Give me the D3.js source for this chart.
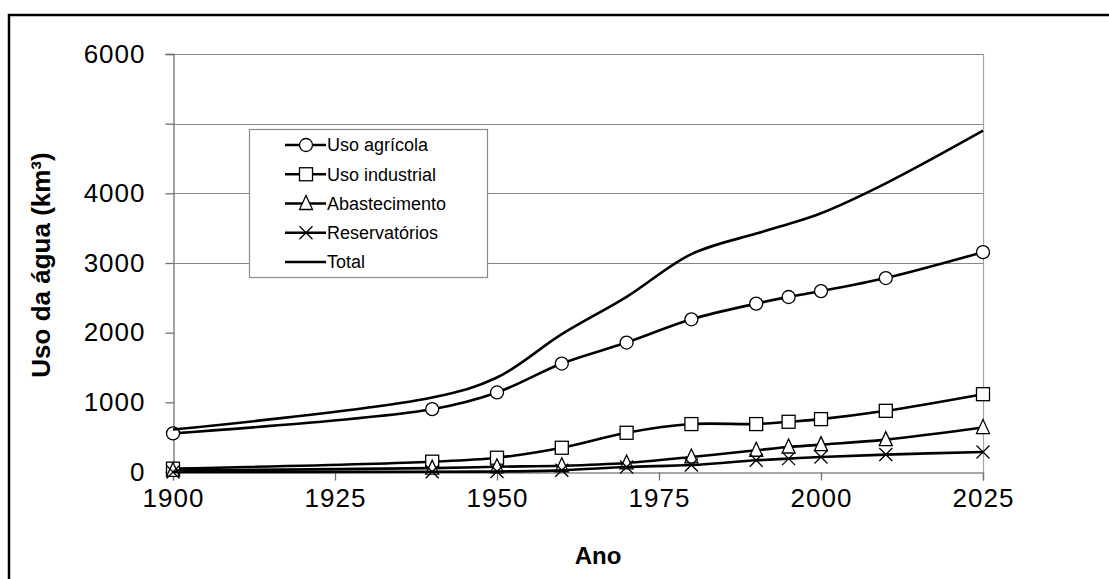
<!DOCTYPE html>
<html>
<head>
<meta charset="utf-8">
<script src="https://cdn.jsdelivr.net/npm/d3@7"></script>
<style>
  html, body { margin: 0; padding: 0; background: #fff; }
  svg { display: block; }
  text { font-family: "Liberation Sans", Arial, sans-serif; fill: #000; }
</style>
</head>
<body>
<svg id="chart" width="1109" height="579"></svg>
<script>
// ---- data ----
const years = [1900, 1940, 1950, 1960, 1970, 1980, 1990, 1995, 2000, 2010, 2025];
const usoAgricola = [554, 902, 1142, 1557, 1858, 2192, 2417, 2512, 2597, 2784, 3156];
const usoIndustrial = [48, 148, 205, 348, 563, 688, 688, 721, 759, 878, 1117];
const abastecimento = [22, 55, 75, 90, 130, 216, 312, 359, 393, 465, 638];
const reservatorios = [0, 4, 7, 24, 72, 100, 168, 192, 216, 250, 287];
const total = [609, 1069, 1356, 1978, 2514, 3128, 3422, 3559, 3713, 4143, 4899];

const seriesNames = ["Uso agrícola", "Uso industrial", "Abastecimento", "Reservatórios", "Total"];
const seriesMarkers = ["circle", "square", "triangle", "cross", "none"];
const seriesValues = [usoAgricola, usoIndustrial, abastecimento, reservatorios, total];

const xTicks = [1900, 1925, 1950, 1975, 2000, 2025];
const yTicks = [0, 1000, 2000, 3000, 4000, 5000, 6000];
const yLabeledTicks = [0, 1000, 2000, 3000, 4000, 6000];
const yGridTicks = [3000, 4000, 5000, 6000];
const yTitle = "Uso da água (km³)";
const xTitle = "Ano";

(function () {
// ---- layout ----
const svg = d3.select("#chart");
const pL = 173, pR = 983, pT = 54, pB = 472;
const x = d3.scaleLinear().domain([1900, 2025]).range([pL, pR]);
const y = d3.scaleLinear().domain([0, 6000]).range([pB, pT]);

// outer border (only left/top visible)
svg.append("rect").attr("x", 9).attr("y", 15).attr("width", 1300).attr("height", 800)
  .attr("fill", "none").attr("stroke", "#000").attr("stroke-width", 2.5);

// gridlines
svg.append("g").selectAll("line").data(yGridTicks).join("line")
  .attr("x1", pL).attr("x2", pR)
  .attr("y1", d => Math.round(y(d)) + 0.5).attr("y2", d => Math.round(y(d)) + 0.5)
  .attr("stroke", "#868686").attr("stroke-width", 1.2);

// right border of plot area
svg.append("line").attr("x1", pR + 0.5).attr("x2", pR + 0.5)
  .attr("y1", pT).attr("y2", pB).attr("stroke", "#a6a6a6").attr("stroke-width", 1.2);

// y axis
const yAxis = d3.axisLeft(y).tickValues(yTicks).tickSize(8).tickPadding(20)
  .tickFormat(d => yLabeledTicks.includes(d) ? String(d) : "");
const gy = svg.append("g").attr("transform", `translate(${pL + 0.5},0)`).call(yAxis);
gy.select(".domain").attr("stroke", "#707070").attr("stroke-width", 1.3);
gy.selectAll(".tick line").attr("stroke", "#707070").attr("stroke-width", 1.3);
gy.selectAll(".tick text").attr("font-size", 26).attr("font-family", "Liberation Sans, Arial, sans-serif")
  .attr("fill", "#000").attr("x", -28).attr("letter-spacing", "1px");

// x axis
const xAxis = d3.axisBottom(x).tickValues(xTicks).tickSize(8).tickPadding(20).tickFormat(d => String(d));
const gx = svg.append("g").attr("transform", `translate(0,${pB + 0.5})`).call(xAxis);
gx.select(".domain").attr("stroke", "#8a8a8a").attr("stroke-width", 1.3);
gx.selectAll(".tick line").attr("stroke", "#707070").attr("stroke-width", 1.3);
gx.selectAll(".tick text").attr("font-size", 26).attr("font-family", "Liberation Sans, Arial, sans-serif")
  .attr("fill", "#000").attr("dy", "0.71em").attr("y", 16).attr("letter-spacing", "1px");

// axis titles
svg.append("text").attr("transform", `translate(50,265) rotate(-90)`)
  .attr("text-anchor", "middle").attr("font-size", 26).attr("font-weight", "bold")
  .text(yTitle);
svg.append("text").attr("x", 598).attr("y", 564)
  .attr("text-anchor", "middle").attr("font-size", 24).attr("font-weight", "bold")
  .text(xTitle);

// markers
function drawMarker(g, type, cx, cy) {
  if (type === "circle") {
    g.append("circle").attr("cx", cx).attr("cy", cy).attr("r", 6.5)
      .attr("fill", "#fff").attr("stroke", "#000").attr("stroke-width", 1.3);
  } else if (type === "square") {
    g.append("rect").attr("x", cx - 6.5).attr("y", cy - 6.5).attr("width", 13).attr("height", 13)
      .attr("fill", "#fff").attr("stroke", "#000").attr("stroke-width", 1.3);
  } else if (type === "triangle") {
    g.append("path").attr("d", `M${cx},${cy - 8} L${cx + 6.5},${cy + 6} L${cx - 6.5},${cy + 6} Z`)
      .attr("fill", "#fff").attr("stroke", "#000").attr("stroke-width", 1.3);
  } else if (type === "cross") {
    g.append("path").attr("d", `M${cx - 6.5},${cy - 6.5} L${cx + 6.5},${cy + 6.5} M${cx + 6.5},${cy - 6.5} L${cx - 6.5},${cy + 6.5}`)
      .attr("fill", "none").attr("stroke", "#000").attr("stroke-width", 1.3);
  }
}

const line = d3.line().x(d => x(d[0])).y(d => y(d[1])).curve(d3.curveCatmullRom.alpha(0.5));

const plot = svg.append("g");
seriesValues.forEach((vals, i) => {
  const pts = years.map((yr, j) => [yr, vals[j]]);
  const g = plot.append("g");
  g.append("path").attr("d", line(pts)).attr("fill", "none")
    .attr("stroke", "#000").attr("stroke-width", 2.6).attr("stroke-linejoin", "round");
  if (seriesMarkers[i] !== "none") {
    pts.forEach(p => drawMarker(g, seriesMarkers[i], x(p[0]), y(p[1])));
  }
});

// legend
const lg = svg.append("g");
lg.append("rect").attr("x", 249.5).attr("y", 129.5).attr("width", 238).attr("height", 148)
  .attr("fill", "#fff").attr("stroke", "#8a8a8a").attr("stroke-width", 1.2);
const rowY = d3.scaleLinear().domain([0, 4]).range([145, 262]);
seriesNames.forEach((name, i) => {
  const cy = rowY(i);
  const r = lg.append("g");
  r.append("line").attr("x1", 285).attr("x2", 326).attr("y1", cy).attr("y2", cy)
    .attr("stroke", "#000").attr("stroke-width", 2.4);
  drawMarker(r, seriesMarkers[i], 306, cy);
  r.append("text").attr("x", 327).attr("y", cy).attr("dy", "0.35em")
    .attr("font-size", 18).text(name);
});
})();
</script>
</body>
</html>
